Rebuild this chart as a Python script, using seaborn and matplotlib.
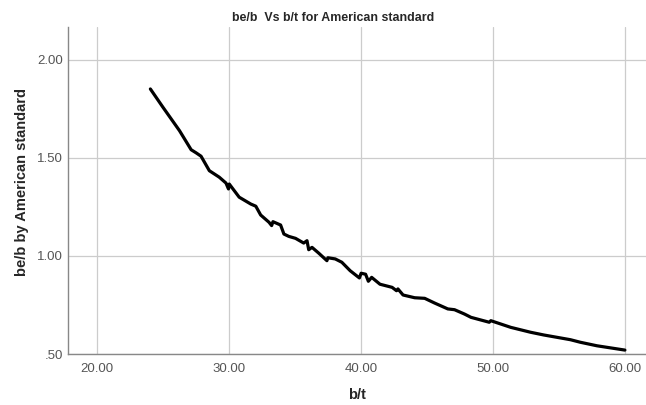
import matplotlib

matplotlib.use("Agg")
import matplotlib.pyplot as plt
import pandas as pd
import seaborn as sns
from matplotlib.ticker import FuncFormatter

# b/t vs be/b (American standard)
b_t = [24.04, 24.99, 26.25, 27.13, 27.51, 27.88, 28.51, 29.26, 29.77, 29.96,
       30.02, 30.77, 31.65, 32.03, 32.40, 33.03, 33.23, 33.33, 33.91, 34.16,
       34.53, 35.04, 35.66, 35.91, 36.04, 36.29, 36.79, 37.42, 37.49, 38.05,
       38.55, 39.18, 39.88, 40.01, 40.35, 40.56, 40.81, 41.44, 42.36, 42.69,
       42.80, 43.19, 44.07, 44.83, 45.58, 46.58, 47.09, 47.84, 48.34, 49.72,
       49.84, 51.35, 52.85, 53.86, 55.87, 56.62, 57.88, 60.00]
be_b = [1.852, 1.759, 1.639, 1.542, 1.526, 1.509, 1.435, 1.402, 1.372, 1.342,
        1.367, 1.300, 1.265, 1.254, 1.209, 1.172, 1.155, 1.175, 1.158, 1.112,
        1.100, 1.090, 1.066, 1.078, 1.032, 1.044, 1.015, 0.976, 0.991, 0.985,
        0.968, 0.925, 0.888, 0.912, 0.907, 0.871, 0.891, 0.856, 0.840, 0.823,
        0.832, 0.801, 0.787, 0.784, 0.760, 0.730, 0.726, 0.704, 0.687, 0.662,
        0.670, 0.636, 0.611, 0.597, 0.573, 0.560, 0.542, 0.520]

x_ticks = [20, 30, 40, 50, 60]
y_ticks = [0.5, 1.0, 1.5, 2.0]

df = pd.DataFrame({"b/t": b_t, "be/b": be_b})

sns.set_theme(style="whitegrid")
plt.rcParams["font.family"] = ["Liberation Sans", "DejaVu Sans"]

fig = plt.figure(figsize=(6.46, 4.05), dpi=100)
ax = fig.add_axes([0.1053, 0.1259, 0.8947, 0.8074])

sns.lineplot(data=df, x="b/t", y="be/b", sort=False, color="black",
             linewidth=2.3, ax=ax)

ax.set_xlim(17.8, 61.6)
ax.set_ylim(0.5, 2.168)
ax.set_xticks(x_ticks)
ax.set_yticks(y_ticks)
ax.xaxis.set_major_formatter(FuncFormatter(lambda v, _: f"{v:.2f}"))
# SPSS style: values below 1 drop the leading zero
ax.yaxis.set_major_formatter(
    FuncFormatter(lambda v, _: f"{v:.2f}".lstrip("0") if v < 1 else f"{v:.2f}"))
ax.tick_params(axis="both", length=0, labelsize=9.5, labelcolor="#555555")
ax.tick_params(axis="x", pad=6.5)
ax.tick_params(axis="y", pad=3.5)

ax.grid(True, color="#cccccc", linewidth=0.9)
for side in ["top", "right"]:
    ax.spines[side].set_visible(False)
for side in ["left", "bottom"]:
    ax.spines[side].set_color("#888888")
    ax.spines[side].set_linewidth(1.0)

ax.set_xlabel("b/t", fontsize=10.5, fontweight="bold", labelpad=9)
ax.set_ylabel("be/b by American standard", fontsize=10.5, fontweight="bold")
ax.yaxis.set_label_coords(-0.068, 0.526)
fig.text(333 / 646, 1 - 18 / 405, "be/b  Vs b/t for American standard",
         ha="center", va="center", fontsize=8.9, fontweight="bold")

fig.savefig("out.png", dpi=100)
